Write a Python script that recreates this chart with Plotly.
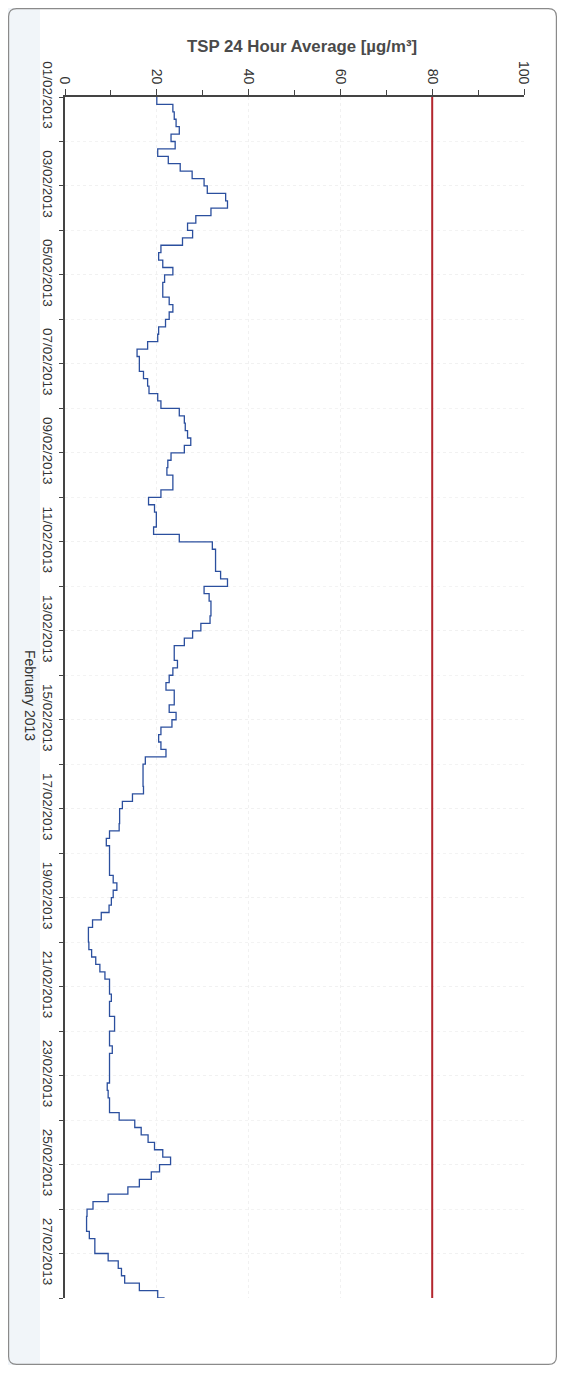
import pandas as pd
import plotly.graph_objects as go

# ---- data (TSP 24 h rolling average, sampled every 4 hours) ----
start = "2013-02-01 00:00"
step_hours = 4
tsp = [
    20.0, 23.5, 23.8, 24.2, 24.9, 23.1,   # 01/02
    24.0, 20.2, 22.5, 25.1, 27.7, 30.3,   # 02/02
    31.0, 35.0, 35.4, 31.8, 28.5, 26.7,   # 03/02
    27.8, 25.6, 20.9, 20.4, 21.3, 23.5,   # 04/02
    21.7, 21.3, 21.3, 22.7, 23.5, 22.7,   # 05/02
    21.9, 20.4, 20.2, 18.0, 15.7, 16.2,   # 06/02
    16.2, 17.1, 18.0, 18.3, 20.2, 20.9,   # 07/02
    24.9, 26.0, 26.2, 26.7, 27.4, 26.0,   # 08/02
    23.1, 22.4, 22.2, 23.5, 23.5, 20.9,   # 09/02
    18.2, 19.5, 19.9, 19.9, 19.3, 24.9,   # 10/02
    32.1, 32.8, 32.8, 32.8, 33.9, 35.4,   # 11/02
    30.3, 31.4, 31.8, 31.8, 31.6, 29.6,   # 12/02
    27.8, 26.0, 23.8, 23.8, 24.5, 23.5,   # 13/02
    22.7, 22.0, 23.8, 23.8, 22.7, 24.2,   # 14/02
    23.3, 20.9, 20.4, 20.9, 22.0, 17.5,   # 15/02
    17.0, 17.0, 17.0, 17.1, 14.7, 12.5,   # 16/02
    11.9, 11.9, 11.8, 9.7, 9.0, 9.7,      # 17/02
    9.7, 9.7, 9.7, 10.5, 11.3, 10.5,      # 18/02
    10.1, 9.6, 7.9, 6.0, 5.1, 5.1,        # 19/02
    5.2, 5.8, 6.7, 7.6, 8.7, 9.7,         # 20/02
    9.7, 10.1, 9.7, 9.7, 10.8, 10.8,      # 21/02
    9.7, 9.7, 10.3, 9.7, 9.7, 9.7,        # 22/02
    9.7, 9.2, 9.4, 9.7, 9.7, 11.8,        # 23/02
    15.2, 16.6, 18.1, 19.5, 21.3, 23.0,   # 24/02
    20.6, 18.8, 16.2, 13.7, 9.4, 6.1,     # 25/02
    4.8, 4.7, 4.7, 5.3, 6.5, 6.5,         # 26/02
    9.4, 11.6, 12.3, 13.0, 16.2, 20.2,    # 27/02
    21.7,                                 # 28/02
]
limit_value = 80
x_range = [0, 100]
x_tick_vals = [0, 20, 40, 60, 80, 100]
date_tick_days = ["2013-02-%02d" % d for d in range(1, 28, 2)]
date_tick_text = ["%02d/02/2013" % d for d in range(1, 28, 2)]
date_range = ["2013-02-28", "2013-02-01"]
title_text = "TSP 24 Hour Average [µg/m³]"
axis_title = "February 2013"

times = pd.date_range(start=start, periods=len(tsp), freq="%dh" % step_hours)

fig = go.Figure()
fig.add_trace(go.Scatter(
    x=tsp, y=times, mode="lines", line_shape="vh",
    line=dict(color="#2b4f9e", width=1.3), showlegend=False,
))
fig.add_trace(go.Scatter(
    x=[limit_value, limit_value], y=[date_range[1], date_range[0]], mode="lines",
    line=dict(color="#b3262e", width=2), showlegend=False,
))

# page body has an 8px margin; figure is sized to fit the window
W, H = 549, 1357
L, T, R, B = 57, 89, 33, 67
PW, PH = W - L - R, H - T - B

FONT = "Liberation Sans, Arial, sans-serif"
fig.update_layout(
    width=W, height=H, autosize=False,
    margin=dict(l=L, r=R, t=T, b=B),
    paper_bgcolor="white", plot_bgcolor="white",
    font=dict(family=FONT, size=13, color="#333"),
    xaxis=dict(
        range=x_range, side="top", tickvals=x_tick_vals,
        tickangle=90, ticks="outside", ticklen=6, tickcolor="#444",
        showline=True, linecolor="#444", linewidth=1.5,
        showgrid=True, gridcolor="#f1f1f1", griddash="dot", zeroline=False,
        minor=dict(dtick=10, ticks="outside", ticklen=5, tickcolor="#444", showgrid=False),
        tickfont=dict(size=14, color="#333"),
    ),
    yaxis=dict(
        type="date", range=date_range,
        tickvals=date_tick_days, ticktext=date_tick_text,
        tickangle=90, ticks="outside", ticklen=4, tickcolor="#444",
        showline=True, linecolor="#444", linewidth=1.5,
        showgrid=True, gridcolor="#f1f1f1", griddash="dot", zeroline=False,
        minor=dict(dtick=86400000, ticks="outside", ticklen=4, tickcolor="#444",
                   showgrid=True, gridcolor="#f3f3f3", griddash="dot"),
        tickfont=dict(size=13.5, color="#333"),
    ),
)

def px_x(p):  # page pixel -> paper x
    return (p - 8 - L) / PW

def px_y(p):  # page pixel -> paper y
    return 1 - (p - 8 - T) / PH

fig.add_annotation(
    text="<b>" + title_text + "</b>", xref="paper", yref="paper",
    x=px_x(302), y=px_y(46),
    showarrow=False, font=dict(size=16.8, color="#4a4a4a", family=FONT),
    xanchor="center", yanchor="middle",
)
fig.add_annotation(
    text=axis_title, xref="paper", yref="paper", x=px_x(30), y=px_y(695),
    showarrow=False, textangle=90, font=dict(size=14, color="#333", family=FONT),
    xanchor="center", yanchor="middle",
)

# scan tint on the left edge and rounded page frame
fig.add_shape(type="rect", xref="paper", yref="paper",
              x0=px_x(0), x1=px_x(40), y0=px_y(1373), y1=px_y(0),
              fillcolor="#f1f5f9", line=dict(width=0), layer="below")
x0p, x1p = px_x(8.6), px_x(556.4)
y0p, y1p = px_y(1364.4), px_y(8.6)
rx, ry = 8 / PW, 8 / PH
path = (f"M {x0p+rx},{y1p} L {x1p-rx},{y1p} Q {x1p},{y1p} {x1p},{y1p-ry} "
        f"L {x1p},{y0p+ry} Q {x1p},{y0p} {x1p-rx},{y0p} L {x0p+rx},{y0p} "
        f"Q {x0p},{y0p} {x0p},{y0p+ry} L {x0p},{y1p-ry} Q {x0p},{y1p} {x0p+rx},{y1p} Z")
fig.add_shape(type="path", xref="paper", yref="paper", path=path,
              line=dict(color="#8a8a8a", width=1.2), layer="below")

fig.write_html("out.html")
